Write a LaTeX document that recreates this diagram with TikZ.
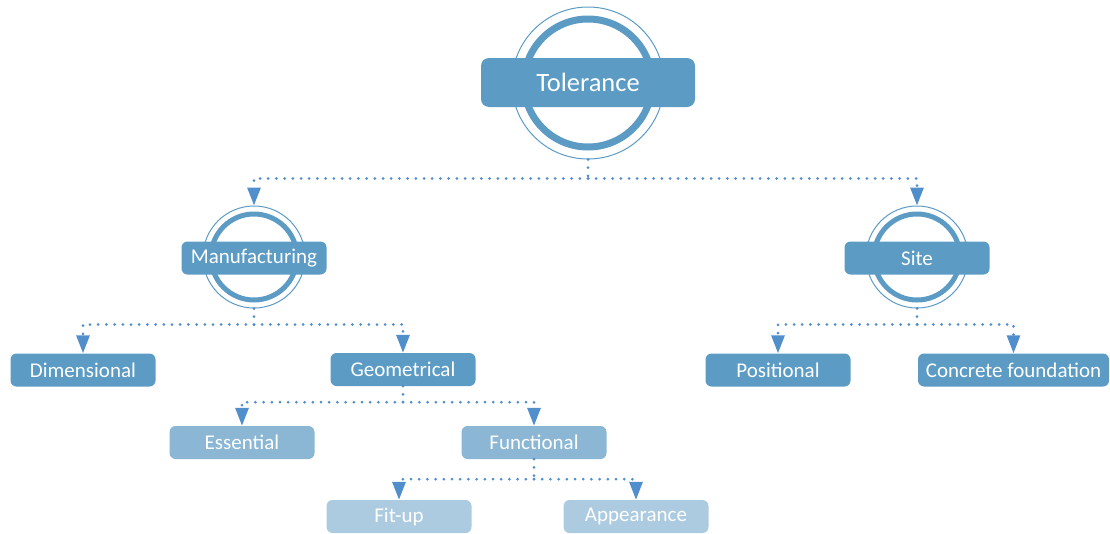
\documentclass[tikz,border=0pt]{standalone}
\usepackage{fontspec}
\setmainfont{Carlito}
\usetikzlibrary{arrows.meta}

\definecolor{boxA}{RGB}{91,155,196}
\definecolor{boxB}{RGB}{139,183,213}
\definecolor{boxC}{RGB}{172,203,225}
\definecolor{link}{RGB}{80,142,204}

\begin{document}
\begin{tikzpicture}[x=1pt,y=-1pt,
  box/.style={rectangle, rounded corners=6pt, minimum width=145pt, minimum height=33pt,
    inner sep=0pt, fill=boxA, text=white, font=\fontsize{21}{25}\selectfont},
  lvlB/.style={box, fill=boxB},
  lvlC/.style={box, fill=boxC},
  thinring/.style={circle, draw=boxA, line width=1pt, inner sep=0pt},
  thickring/.style={circle, draw=boxA, inner sep=0pt},
  conn/.style={draw=link, line width=3pt, dash pattern=on 0pt off 8.2pt, line cap=round},
  tip/.style={-{Triangle[width=13pt,length=18pt,fill=link]}}
]
\useasboundingbox (0,0) rectangle (1110,533);

% root with its double ring
\node[thinring, minimum size=152pt] (tolring) at (588,83) {};
\node[thickring, line width=7pt, minimum size=128pt] at (588,83) {};
\node[box, minimum width=214pt, minimum height=49pt, rounded corners=8pt,
      font=\fontsize{26.5}{31}\selectfont] (tol) at (588,82.5) {Tolerance};

% second level with rings
\node[thinring, minimum size=102pt] (manring) at (254,257) {};
\node[thickring, line width=5pt, minimum size=86pt] at (254,257) {};
\node[box] (man) at (254,258) {Manufacturing};

\node[thinring, minimum size=102pt] (sitering) at (917,257) {};
\node[thickring, line width=5pt, minimum size=86pt] at (917,257) {};
\node[box] (site) at (917,258) {Site};

% third level
\node[box] (dim) at (83,370) {Dimensional};
\node[box] (geo) at (403,369.5) {Geometrical};
\node[box] (pos) at (778,370) {Positional};
\node[box, minimum width=191pt] (conc) at (1013.5,370) {Concrete foundation};

% fourth level
\node[lvlB] (ess) at (242,442.5) {Essential};
\node[lvlB] (fun) at (534,442.5) {Functional};

% fifth level
\node[lvlC] (fit) at (399,516.5) {Fit-up};
\node[lvlC] (app) at (636,516.5) {Appearance};

% dotted connectors
\draw[conn] (tolring.south) -- ++(0,19) coordinate (tb);
\draw[conn,tip] (tb) -| (manring.north);
\draw[conn,tip] (tb) -| (sitering.north);

\draw[conn] (manring.south) -- ++(0,16) coordinate (mb);
\draw[conn,tip] (mb) -| (dim.north);
\draw[conn,tip] (mb) -| (geo.north);

\draw[conn] (sitering.south) -- ++(0,16) coordinate (sb);
\draw[conn,tip] (sb) -| (pos.north);
\draw[conn,tip] (sb) -| (conc.north);

\draw[conn] (geo.south) -- ++(0,16) coordinate (gb);
\draw[conn,tip] (gb) -| (ess.north);
\draw[conn,tip] (gb) -| (fun.north);

\draw[conn] (fun.south) -- ++(0,20) coordinate (fb);
\draw[conn,tip] (fb) -| (fit.north);
\draw[conn,tip] (fb) -| (app.north);
\end{tikzpicture}
\end{document}
